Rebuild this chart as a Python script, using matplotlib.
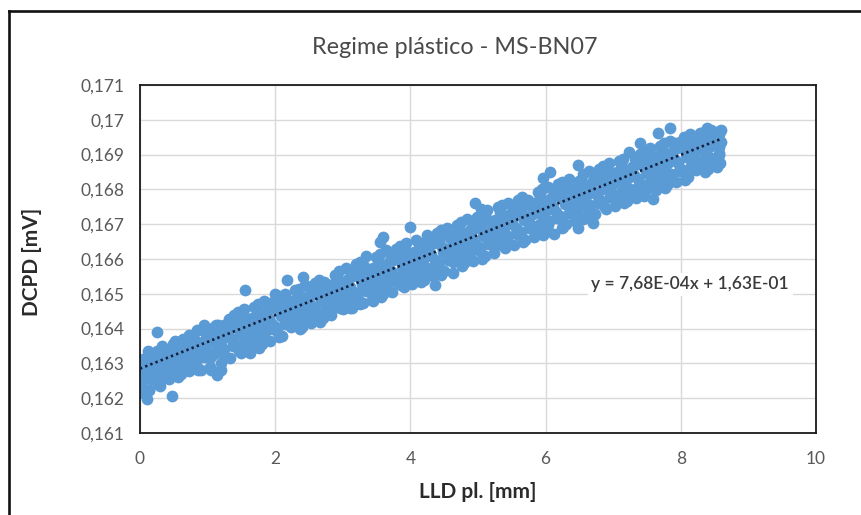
import numpy as np
import matplotlib
matplotlib.use("Agg")
import matplotlib.pyplot as plt
from matplotlib.lines import Line2D

plt.rcParams['font.family'] = ['Lato', 'DejaVu Sans']

# LLD plastic displacement [mm]
lld_mm = [
    0.00, 0.05, 0.02, 0.08, 0.04, 0.13, 0.17, 0.11, 0.15, 0.19,
    0.26, 0.21, 0.28, 0.23, 0.25, 0.30, 0.35, 0.32, 0.38, 0.34,
    0.43, 0.47, 0.41, 0.45, 0.49, 0.56, 0.51, 0.58, 0.53, 0.55,
    0.60, 0.65, 0.62, 0.68, 0.64, 0.73, 0.77, 0.71, 0.75, 0.79,
    0.86, 0.81, 0.88, 0.83, 0.85, 0.90, 0.95, 0.92, 0.98, 0.94,
    1.03, 1.07, 1.01, 1.05, 1.09, 1.16, 1.11, 1.18, 1.13, 1.15,
    1.20, 1.25, 1.22, 1.28, 1.24, 1.33, 1.37, 1.31, 1.35, 1.39,
    1.46, 1.41, 1.48, 1.43, 1.45, 1.50, 1.55, 1.52, 1.58, 1.54,
    1.63, 1.67, 1.61, 1.65, 1.69, 1.76, 1.71, 1.78, 1.73, 1.75,
    1.80, 1.85, 1.82, 1.88, 1.84, 1.93, 1.97, 1.91, 1.95, 1.99,
    2.06, 2.01, 2.08, 2.03, 2.05, 2.10, 2.15, 2.12, 2.18, 2.14,
    2.23, 2.27, 2.21, 2.25, 2.29, 2.36, 2.31, 2.38, 2.33, 2.35,
    2.40, 2.45, 2.42, 2.48, 2.44, 2.53, 2.57, 2.51, 2.55, 2.59,
    2.66, 2.61, 2.68, 2.63, 2.65, 2.70, 2.75, 2.72, 2.78, 2.74,
    2.83, 2.87, 2.81, 2.85, 2.89, 2.96, 2.91, 2.98, 2.93, 2.95,
    3.00, 3.05, 3.02, 3.08, 3.04, 3.13, 3.17, 3.11, 3.15, 3.19,
    3.26, 3.21, 3.28, 3.23, 3.25, 3.30, 3.35, 3.32, 3.38, 3.34,
    3.43, 3.47, 3.41, 3.45, 3.49, 3.56, 3.51, 3.58, 3.53, 3.55,
    3.60, 3.65, 3.62, 3.68, 3.64, 3.73, 3.77, 3.71, 3.75, 3.79,
    3.86, 3.81, 3.88, 3.83, 3.85, 3.90, 3.95, 3.92, 3.98, 3.94,
    4.03, 4.07, 4.01, 4.05, 4.09, 4.16, 4.11, 4.18, 4.13, 4.15,
    4.20, 4.25, 4.22, 4.28, 4.24, 4.33, 4.37, 4.31, 4.35, 4.39,
    4.46, 4.41, 4.48, 4.43, 4.45, 4.50, 4.55, 4.52, 4.58, 4.54,
    4.63, 4.67, 4.61, 4.65, 4.69, 4.76, 4.71, 4.78, 4.73, 4.75,
    4.80, 4.85, 4.82, 4.88, 4.84, 4.93, 4.97, 4.91, 4.95, 4.99,
    5.06, 5.01, 5.08, 5.03, 5.05, 5.10, 5.15, 5.12, 5.18, 5.14,
    5.23, 5.27, 5.21, 5.25, 5.29, 5.36, 5.31, 5.38, 5.33, 5.35,
    5.40, 5.45, 5.42, 5.48, 5.44, 5.53, 5.57, 5.51, 5.55, 5.59,
    5.66, 5.61, 5.68, 5.63, 5.65, 5.70, 5.75, 5.72, 5.78, 5.74,
    5.83, 5.87, 5.81, 5.85, 5.89, 5.96, 5.91, 5.98, 5.93, 5.95,
    6.00, 6.05, 6.02, 6.08, 6.04, 6.13, 6.17, 6.11, 6.15, 6.19,
    6.26, 6.21, 6.28, 6.23, 6.25, 6.30, 6.35, 6.32, 6.38, 6.34,
    6.43, 6.47, 6.41, 6.45, 6.49, 6.56, 6.51, 6.58, 6.53, 6.55,
    6.60, 6.65, 6.62, 6.68, 6.64, 6.73, 6.77, 6.71, 6.75, 6.79,
    6.86, 6.81, 6.88, 6.83, 6.85, 6.90, 6.95, 6.92, 6.98, 6.94,
    7.03, 7.07, 7.01, 7.05, 7.09, 7.16, 7.11, 7.18, 7.13, 7.15,
    7.20, 7.25, 7.22, 7.28, 7.24, 7.33, 7.37, 7.31, 7.35, 7.39,
    7.46, 7.41, 7.48, 7.43, 7.45, 7.50, 7.55, 7.52, 7.58, 7.54,
    7.63, 7.67, 7.61, 7.65, 7.69, 7.76, 7.71, 7.78, 7.73, 7.75,
    7.80, 7.85, 7.82, 7.88, 7.84, 7.93, 7.97, 7.91, 7.95, 7.99,
    8.06, 8.01, 8.08, 8.03, 8.05, 8.10, 8.15, 8.12, 8.18, 8.14,
    8.23, 8.27, 8.21, 8.25, 8.29, 8.36, 8.31, 8.38, 8.33, 8.35,
    8.40, 8.45, 8.42, 8.48, 8.44, 8.53, 8.57, 8.51, 8.55, 8.59,
    8.58, 8.56, 8.59, 8.57, 8.58,
    0.03, 0.07, 0.16, 0.12, 0.23, 0.27, 0.36, 0.32, 0.43, 0.47,
    0.56, 0.52, 0.63, 0.67, 0.76, 0.72, 0.83, 0.87, 0.96, 0.92,
    1.03, 1.07, 1.16, 1.12, 1.23, 1.27, 1.36, 1.32, 1.43, 1.47,
    1.56, 1.52, 1.63, 1.67, 1.76, 1.72, 1.83, 1.87, 1.96, 1.92,
    2.03, 2.07, 2.16, 2.12, 2.23, 2.27, 2.36, 2.32, 2.43, 2.47,
    2.56, 2.52, 2.63, 2.67, 2.76, 2.72, 2.83, 2.87, 2.96, 2.92,
    3.03, 3.07, 3.16, 3.12, 3.23, 3.27, 3.36, 3.32, 3.43, 3.47,
    3.56, 3.52, 3.63, 3.67, 3.76, 3.72, 3.83, 3.87, 3.96, 3.92,
    4.03, 4.07, 4.16, 4.12, 4.23, 4.27, 4.36, 4.32, 4.43, 4.47,
    4.56, 4.52, 4.63, 4.67, 4.76, 4.72, 4.83, 4.87, 4.96, 4.92,
    5.03, 5.07, 5.16, 5.12, 5.23, 5.27, 5.36, 5.32, 5.43, 5.47,
    5.56, 5.52, 5.63, 5.67, 5.76, 5.72, 5.83, 5.87, 5.96, 5.92,
    6.03, 6.07, 6.16, 6.12, 6.23, 6.27, 6.36, 6.32, 6.43, 6.47,
    6.56, 6.52, 6.63, 6.67, 6.76, 6.72, 6.83, 6.87, 6.96, 6.92,
    7.03, 7.07, 7.16, 7.12, 7.23, 7.27, 7.36, 7.32, 7.43, 7.47,
    7.56, 7.52, 7.63, 7.67, 7.76, 7.72, 7.83, 7.87, 7.96, 7.92,
    8.03, 8.07, 8.16, 8.12, 8.23, 8.27, 8.36, 8.32, 8.43, 8.47,
    8.56, 8.52,
    0.25, 0.47, 0.10, 0.05, 0.02, 0.14, 0.30, 1.14, 1.05, 1.20,
    0.95, 1.55, 1.62, 1.58, 2.17, 2.41, 2.66, 2.55, 3.10, 3.45,
    3.60, 3.55, 4.00, 4.36, 4.20, 4.96, 4.90, 5.67, 5.96, 6.07,
    6.24, 6.48, 6.48, 6.70, 6.62, 7.40, 7.40, 7.59, 7.66, 7.84,
    8.39, 8.53, 8.45,
]

# DCPD signal [mV]
dcpd_mv = [
    0.16230, 0.16255, 0.16275, 0.16295, 0.16312, 0.16225, 0.16255, 0.16280, 0.16300, 0.16318,
    0.16240, 0.16265, 0.16290, 0.16315, 0.16335, 0.16250, 0.16275, 0.16300, 0.16325, 0.16345,
    0.16255, 0.16285, 0.16310, 0.16335, 0.16355, 0.16262, 0.16290, 0.16318, 0.16340, 0.16362,
    0.16270, 0.16300, 0.16325, 0.16350, 0.16370, 0.16278, 0.16305, 0.16335, 0.16358, 0.16380,
    0.16282, 0.16312, 0.16340, 0.16365, 0.16395, 0.16280, 0.16318, 0.16345, 0.16372, 0.16400,
    0.16290, 0.16325, 0.16355, 0.16380, 0.16405, 0.16275, 0.16330, 0.16360, 0.16390, 0.16410,
    0.16300, 0.16340, 0.16370, 0.16395, 0.16410, 0.16315, 0.16350, 0.16378, 0.16405, 0.16440,
    0.16335, 0.16355, 0.16385, 0.16415, 0.16448, 0.16330, 0.16365, 0.16395, 0.16425, 0.16455,
    0.16332, 0.16370, 0.16400, 0.16430, 0.16462, 0.16345, 0.16380, 0.16410, 0.16440, 0.16470,
    0.16355, 0.16390, 0.16420, 0.16450, 0.16478, 0.16365, 0.16398, 0.16428, 0.16458, 0.16500,
    0.16375, 0.16405, 0.16435, 0.16465, 0.16495, 0.16380, 0.16412, 0.16442, 0.16470, 0.16500,
    0.16405, 0.16420, 0.16450, 0.16480, 0.16510, 0.16398, 0.16430, 0.16458, 0.16488, 0.16515,
    0.16405, 0.16438, 0.16465, 0.16495, 0.16525, 0.16415, 0.16445, 0.16472, 0.16500, 0.16530,
    0.16425, 0.16452, 0.16480, 0.16510, 0.16540, 0.16430, 0.16460, 0.16490, 0.16520, 0.16530,
    0.16438, 0.16470, 0.16498, 0.16528, 0.16555, 0.16460, 0.16478, 0.16505, 0.16535, 0.16565,
    0.16455, 0.16485, 0.16512, 0.16542, 0.16575, 0.16460, 0.16492, 0.16520, 0.16550, 0.16585,
    0.16470, 0.16500, 0.16528, 0.16558, 0.16590, 0.16475, 0.16508, 0.16535, 0.16565, 0.16610,
    0.16482, 0.16515, 0.16545, 0.16575, 0.16605, 0.16490, 0.16522, 0.16550, 0.16582, 0.16615,
    0.16498, 0.16530, 0.16558, 0.16590, 0.16625, 0.16505, 0.16538, 0.16565, 0.16598, 0.16630,
    0.16525, 0.16545, 0.16575, 0.16605, 0.16638, 0.16520, 0.16552, 0.16582, 0.16612, 0.16645,
    0.16528, 0.16560, 0.16590, 0.16620, 0.16655, 0.16535, 0.16568, 0.16598, 0.16628, 0.16645,
    0.16540, 0.16575, 0.16605, 0.16638, 0.16668, 0.16550, 0.16582, 0.16612, 0.16645, 0.16675,
    0.16555, 0.16590, 0.16620, 0.16650, 0.16682, 0.16565, 0.16598, 0.16628, 0.16660, 0.16690,
    0.16560, 0.16605, 0.16635, 0.16668, 0.16698, 0.16580, 0.16612, 0.16642, 0.16675, 0.16705,
    0.16588, 0.16620, 0.16650, 0.16682, 0.16715, 0.16595, 0.16628, 0.16658, 0.16690, 0.16722,
    0.16600, 0.16635, 0.16665, 0.16698, 0.16745, 0.16610, 0.16642, 0.16672, 0.16705, 0.16740,
    0.16618, 0.16650, 0.16680, 0.16712, 0.16748, 0.16640, 0.16658, 0.16690, 0.16720, 0.16755,
    0.16632, 0.16665, 0.16698, 0.16728, 0.16762, 0.16640, 0.16672, 0.16705, 0.16735, 0.16770,
    0.16648, 0.16680, 0.16712, 0.16745, 0.16778, 0.16655, 0.16688, 0.16720, 0.16752, 0.16770,
    0.16662, 0.16695, 0.16728, 0.16760, 0.16792, 0.16670, 0.16702, 0.16735, 0.16768, 0.16800,
    0.16678, 0.16710, 0.16742, 0.16775, 0.16808, 0.16672, 0.16718, 0.16750, 0.16782, 0.16815,
    0.16692, 0.16725, 0.16758, 0.16790, 0.16822, 0.16700, 0.16732, 0.16765, 0.16798, 0.16830,
    0.16708, 0.16740, 0.16772, 0.16805, 0.16825, 0.16715, 0.16748, 0.16780, 0.16812, 0.16845,
    0.16722, 0.16755, 0.16788, 0.16820, 0.16852, 0.16730, 0.16762, 0.16795, 0.16828, 0.16860,
    0.16752, 0.16770, 0.16802, 0.16835, 0.16868, 0.16745, 0.16778, 0.16810, 0.16842, 0.16875,
    0.16752, 0.16785, 0.16818, 0.16850, 0.16882, 0.16760, 0.16792, 0.16825, 0.16858, 0.16888,
    0.16768, 0.16800, 0.16832, 0.16865, 0.16908, 0.16775, 0.16808, 0.16840, 0.16872, 0.16902,
    0.16782, 0.16815, 0.16848, 0.16880, 0.16910, 0.16802, 0.16822, 0.16855, 0.16888, 0.16918,
    0.16798, 0.16830, 0.16862, 0.16895, 0.16925, 0.16805, 0.16838, 0.16870, 0.16902, 0.16932,
    0.16812, 0.16845, 0.16878, 0.16910, 0.16940, 0.16820, 0.16852, 0.16885, 0.16918, 0.16935,
    0.16828, 0.16860, 0.16892, 0.16925, 0.16952, 0.16835, 0.16868, 0.16900, 0.16932, 0.16958,
    0.16855, 0.16875, 0.16908, 0.16940, 0.16962, 0.16850, 0.16882, 0.16915, 0.16945, 0.16965,
    0.16858, 0.16890, 0.16922, 0.16950, 0.16968, 0.16865, 0.16898, 0.16930, 0.16955, 0.16970,
    0.16875, 0.16905, 0.16935, 0.16958, 0.16968,
    0.16238, 0.16297, 0.16276, 0.16335, 0.16253, 0.16312, 0.16291, 0.16350, 0.16269, 0.16328,
    0.16306, 0.16365, 0.16284, 0.16343, 0.16322, 0.16381, 0.16299, 0.16358, 0.16337, 0.16396,
    0.16315, 0.16374, 0.16352, 0.16411, 0.16330, 0.16389, 0.16368, 0.16427, 0.16346, 0.16405,
    0.16383, 0.16442, 0.16361, 0.16420, 0.16399, 0.16458, 0.16376, 0.16435, 0.16414, 0.16473,
    0.16392, 0.16451, 0.16429, 0.16488, 0.16407, 0.16466, 0.16445, 0.16504, 0.16422, 0.16481,
    0.16460, 0.16519, 0.16438, 0.16497, 0.16475, 0.16534, 0.16453, 0.16512, 0.16491, 0.16550,
    0.16468, 0.16527, 0.16506, 0.16565, 0.16484, 0.16543, 0.16521, 0.16580, 0.16499, 0.16558,
    0.16537, 0.16596, 0.16514, 0.16573, 0.16552, 0.16611, 0.16530, 0.16589, 0.16568, 0.16627,
    0.16545, 0.16604, 0.16583, 0.16642, 0.16561, 0.16620, 0.16598, 0.16657, 0.16576, 0.16635,
    0.16614, 0.16673, 0.16591, 0.16650, 0.16629, 0.16688, 0.16607, 0.16666, 0.16644, 0.16703,
    0.16622, 0.16681, 0.16660, 0.16719, 0.16637, 0.16696, 0.16675, 0.16734, 0.16653, 0.16712,
    0.16690, 0.16749, 0.16668, 0.16727, 0.16706, 0.16765, 0.16683, 0.16742, 0.16721, 0.16780,
    0.16699, 0.16758, 0.16736, 0.16795, 0.16714, 0.16773, 0.16752, 0.16811, 0.16730, 0.16789,
    0.16767, 0.16826, 0.16745, 0.16804, 0.16783, 0.16842, 0.16760, 0.16819, 0.16798, 0.16857,
    0.16776, 0.16835, 0.16813, 0.16872, 0.16791, 0.16850, 0.16829, 0.16888, 0.16806, 0.16865,
    0.16844, 0.16903, 0.16822, 0.16881, 0.16859, 0.16918, 0.16837, 0.16896, 0.16875, 0.16934,
    0.16852, 0.16911, 0.16890, 0.16949, 0.16868, 0.16927, 0.16905, 0.16958, 0.16883, 0.16942,
    0.16921, 0.16960,
    0.16390, 0.16206, 0.16199, 0.16215, 0.16245, 0.16225, 0.16235, 0.16267, 0.16280, 0.16282,
    0.16410, 0.16511, 0.16330, 0.16340, 0.16540, 0.16548, 0.16419, 0.16430, 0.16459, 0.16480,
    0.16663, 0.16650, 0.16692, 0.16525, 0.16550, 0.16761, 0.16600, 0.16655, 0.16833, 0.16850,
    0.16689, 0.16689, 0.16870, 0.16703, 0.16720, 0.16933, 0.16784, 0.16772, 0.16962, 0.16976,
    0.16976, 0.16965, 0.16972,
]

# Linear trendline coefficients
trend_slope = 7.68e-4
trend_intercept = 0.16285

x_ticks = [0, 2, 4, 6, 8, 10]
y_ticks = [0.161, 0.162, 0.163, 0.164, 0.165, 0.166, 0.167, 0.168, 0.169, 0.170, 0.171]
y_tick_labels = ["0,161", "0,162", "0,163", "0,164", "0,165", "0,166",
                 "0,167", "0,168", "0,169", "0,17", "0,171"]

title = "Regime plástico - MS-BN07"
x_label = "LLD pl. [mm]"
y_label = "DCPD [mV]"

W, H = 862, 515
fig = plt.figure(figsize=(W / 100, H / 100), dpi=100)
fig.patch.set_facecolor("white")

# outer chart frame (left and top edges)
fig.add_artist(Line2D([9.5 / W, 9.5 / W], [0, 1 - 10.5 / H], transform=fig.transFigure,
                      color="#111111", lw=1.9, solid_capstyle="projecting"))
fig.add_artist(Line2D([9.5 / W, 1], [1 - 10.5 / H, 1 - 10.5 / H], transform=fig.transFigure,
                      color="#111111", lw=1.9, solid_capstyle="projecting"))

ax = fig.add_axes([140 / W, 82 / H, 676 / W, 348 / H])
ax.scatter(lld_mm, dcpd_mv, s=72, color="#5B9BD5", linewidths=0, zorder=2)

xs = np.array([min(lld_mm), max(lld_mm)])
ax.plot(xs, trend_slope * xs + trend_intercept, color="#14213D", lw=1.9,
        ls=(0, (0.9, 1.2)), zorder=3)

ax.set_xlim(0, 10)
ax.set_ylim(0.161, 0.171)
ax.set_xticks(x_ticks)
ax.set_xticklabels([str(t) for t in x_ticks])
ax.set_yticks(y_ticks)
ax.set_yticklabels(y_tick_labels)
ax.grid(True, color="#D9D9D9", lw=1.0)
ax.set_axisbelow(True)
for s in ax.spines.values():
    s.set_color("#1A1A1A")
    s.set_linewidth(1.3)
ax.tick_params(axis="both", length=0, labelsize=12.5, colors="#595959")
ax.tick_params(axis="y", pad=11.5)
ax.tick_params(axis="x", pad=13)


def sci(v):
    return f"{v:.2E}".replace(".", ",")


eq = f"y = {sci(trend_slope)}x + {sci(trend_intercept)}"
ax.text(8.14, 0.16528, eq, ha="center", va="center", fontsize=12.5, color="#3A3A3A",
        fontweight="semibold", bbox=dict(facecolor="white", edgecolor="none", pad=2.5), zorder=4)

fig.text(455 / W, 1 - 47 / H, title, ha="center", va="center", fontsize=16.8, color="#4A4A4A")
fig.text(478 / W, 1 - 492 / H, x_label, ha="center", va="center", fontsize=15,
         fontweight="bold", color="#2B2B2B")
fig.text(32 / W, 1 - 262 / H, y_label, ha="center", va="center", rotation=90,
         fontsize=15, fontweight="bold", color="#2B2B2B")

fig.savefig("out.png", dpi=100)
